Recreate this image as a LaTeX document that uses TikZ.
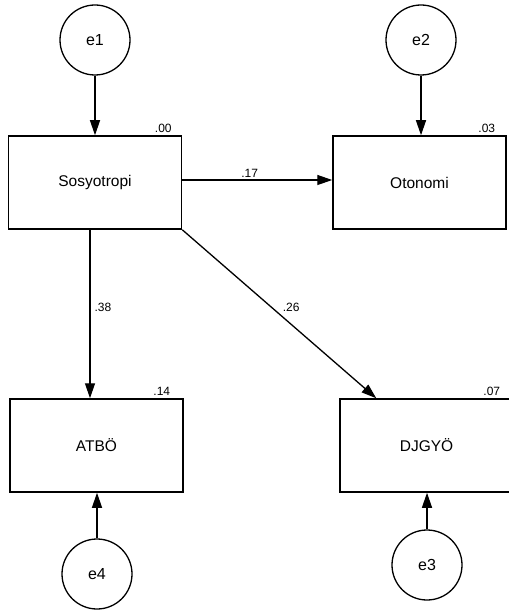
\documentclass[tikz,border=0pt]{standalone}
\usepackage{fontspec}
\setmainfont{Liberation Sans}
\usetikzlibrary{arrows.meta}
\begin{document}
\begin{tikzpicture}[x=1pt, y=-1pt, >={Triangle[length=15pt, width=10pt]}, line width=1.3pt]

        % Styles for nodes
        \tikzstyle{err} = [draw, circle, minimum size=70pt, inner sep=0pt, font=\fontsize{16}{18}\selectfont]
        \tikzstyle{var} = [draw, rectangle, minimum width=173pt, minimum height=93pt, inner sep=0pt, line width=1.5pt, font=\fontsize{15.5}{18}\selectfont]
        \tikzstyle{est} = [font=\fontsize{12}{14}\selectfont, inner sep=2pt]

        \useasboundingbox (0,0) rectangle (508,612);

        % Nodes
        \node[var] (sos) at (95,182.5) {Sosyotropi};
        \node[var] (oto) at (419.5,182.5) {Otonomi};
        \node[var] (atb) at (96.5,445.5) {ATBÖ};
        \node[var] (djg) at (426.5,445.5) {DJGYÖ};
        \node[err] (e1) at (95,40) {e1};
        \node[err] (e2) at (421,40) {e2};
        \node[err] (e4) at (97,574) {e4};
        \node[err] (e3) at (427,565) {e3};

        % Squared multiple correlations
        \node[est, anchor=south east] (r1) at ([xshift=-8pt]sos.north east) {.00};
        \node[est, anchor=south east] (r2) at ([xshift=-9pt]oto.north east) {.03};
        \node[est, anchor=south east] (r3) at ([xshift=-11pt]atb.north east) {.14};
        \node[est, anchor=south east] (r4) at ([xshift=-11pt]djg.north east) {.07};

        % Arrows
        \draw[->] (e1) -- (e1 |- sos.north);
        \draw[->] (e2) -- (e2 |- oto.north);
        \draw[->] (e4) -- (e4 |- atb.south);
        \draw[->] (e3) -- (e3 |- djg.south);
        \draw[->] ([yshift=2.5pt]sos.east) -- node[est, above, pos=0.45] {.17} ([yshift=2.5pt]oto.west);
        \draw[->] ([xshift=-5pt]sos.south) -- node[est, right, pos=0.46, xshift=2pt] {.38} ([xshift=-5pt]sos.south |- atb.north);
        \draw[->] (sos.south east) -- node[est, above right, pos=0.5, xshift=1pt] {.26} ([xshift=37pt]djg.north west);

\end{tikzpicture}
\end{document}
